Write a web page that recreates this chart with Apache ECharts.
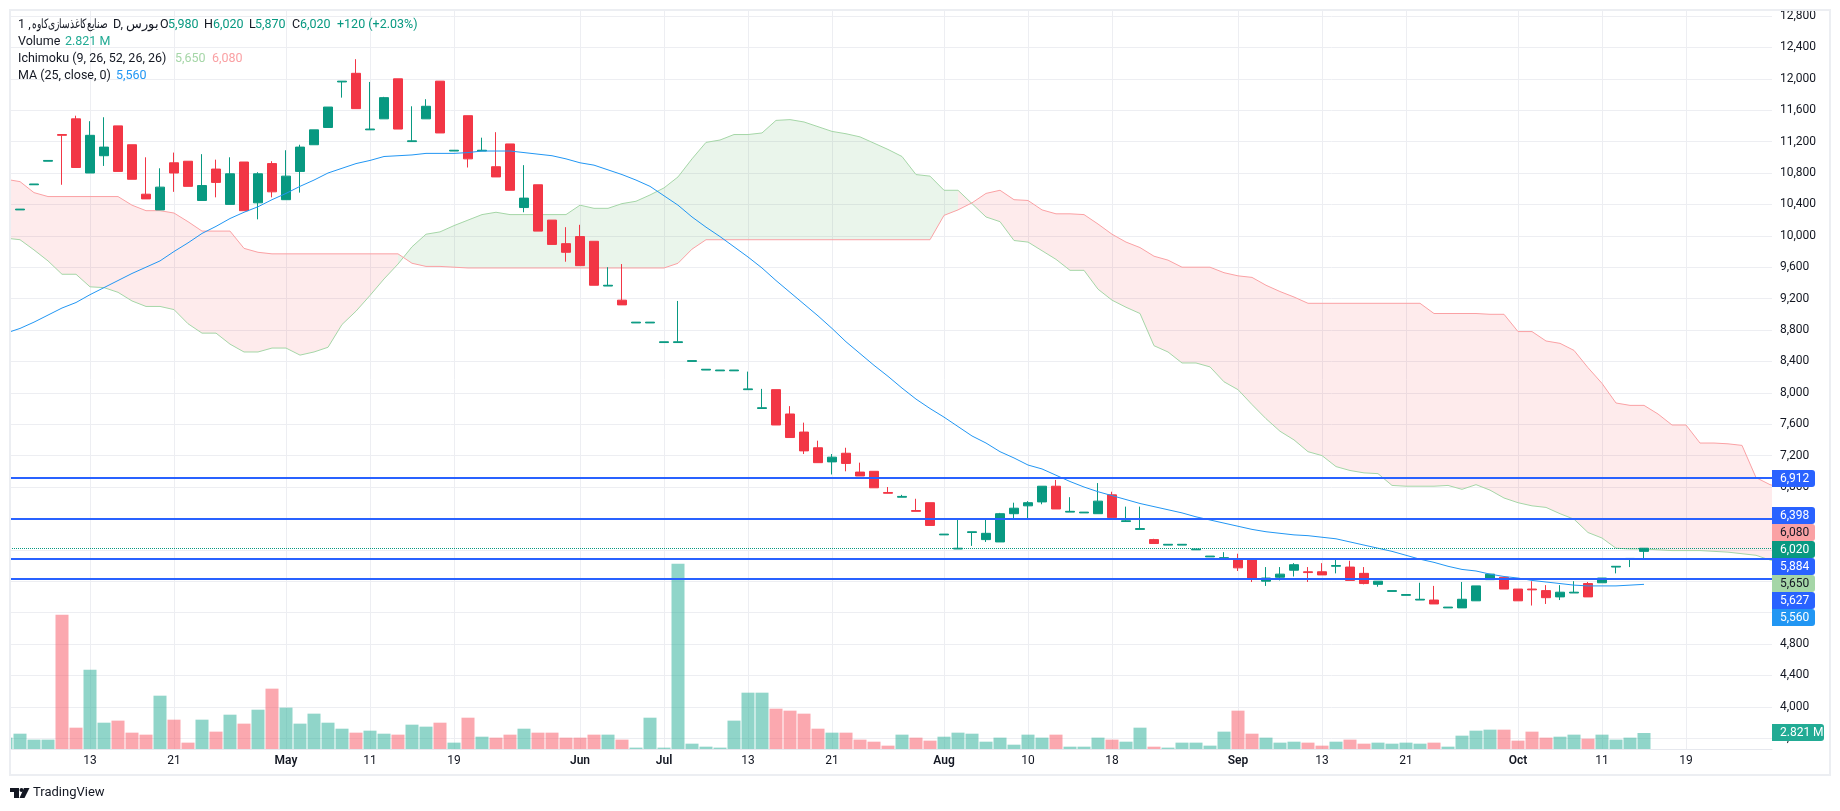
<!DOCTYPE html>
<html>
<head>
<meta charset="utf-8">
<title>chart</title>
<script src="https://cdn.jsdelivr.net/npm/echarts@6/dist/echarts.min.js"></script>
<style>
  html, body { margin: 0; padding: 0; background: #fff; }
  #chart { width: 1840px; height: 811px; }
</style>
</head>
<body>
<div id="chart"></div>
<script>
// one bar every index, index 0 is the first candle on screen
const opens = [
  10330,10650,10950,11290,11490,10800,11020,11400,11160,10530,
  10330,10930,10950,10450,10850,10400,10940,10420,10920,10460,
  10820,11160,11380,11960,12070,11350,11490,12000,11200,11490,
  11970,11080,11530,11080,10880,11170,10360,10650,10200,9900,
  9990,9930,9360,9180,8890,8890,8640,8640,8400,8290,
  8280,8280,8040,7800,8040,7730,7500,7300,7120,7230,
  6990,7000,6730,6670,6500,6600,6190,6010,6220,6130,
  6100,6460,6560,6610,6810,6480,6470,6460,6700,6360,
  6260,6130,6060,6060,6000,5910,5890,5880,5880,5600,
  5650,5740,5720,5720,5790,5780,5700,5560,5470,5420,
  5360,5360,5260,5260,5350,5620,5650,5500,5500,5480,
  5400,5450,5570,5580,5780,5880,5980
];
const closes = [
  10340,10660,10960,11280,10870,11280,11130,10820,10720,10470,
  10620,10800,10630,10640,10680,10790,10320,10790,10560,10760,
  11130,11350,11640,11970,11620,11360,11760,11360,11210,11650,
  11310,11090,10980,11090,10750,10580,10480,10060,9890,9790,
  9620,9370,9370,9120,8900,8900,8650,8650,8410,8300,
  8290,8290,8050,7810,7590,7430,7260,7110,7180,7100,
  6940,6790,6720,6680,6490,6310,6200,6020,6230,6210,
  6460,6530,6600,6810,6520,6490,6480,6620,6410,6370,
  6270,6080,6070,6070,6010,5920,5900,5770,5630,5640,
  5690,5810,5710,5680,5800,5610,5570,5600,5480,5430,
  5370,5310,5270,5370,5540,5690,5500,5350,5490,5390,
  5460,5460,5400,5640,5790,5890,6020
];
const lows = [
  10330,10650,10950,10650,10870,10800,10890,10820,10720,10470,
  10330,10560,10630,10450,10490,10400,10320,10210,10490,10460,
  10550,11160,11380,11760,11620,11350,11490,11360,11200,11490,
  11310,11080,10870,11080,10750,10580,10300,10060,9890,9670,
  9620,9370,9360,9120,8890,8890,8640,8640,8400,8290,
  8280,8280,8040,7800,7590,7430,7220,7110,6960,7000,
  6940,6790,6720,6670,6490,6310,6190,6010,6050,6100,
  6100,6400,6400,6580,6520,6480,6470,6460,6410,6360,
  6260,6080,6060,6060,6000,5910,5890,5730,5590,5540,
  5610,5660,5590,5680,5700,5610,5560,5530,5470,5420,
  5360,5310,5260,5260,5350,5620,5500,5350,5290,5310,
  5360,5450,5400,5580,5700,5780,5870
];
const highs = [
  10340,10660,10960,11290,11530,11460,11510,11400,11160,11000,
  10860,11060,10950,11040,10970,11000,10940,10810,10950,11090,
  11160,11350,11640,11970,12250,11960,11770,12000,11650,11740,
  11970,11090,11530,11250,11320,11170,10900,10650,10200,10110,
  10140,9930,9600,9640,8900,8900,8650,9170,8410,8300,
  8290,8290,8270,8050,8040,7830,7620,7390,7220,7300,
  7110,7000,6800,6700,6650,6600,6200,6390,6230,6390,
  6470,6600,6620,6810,6890,6670,6480,6850,6740,6550,
  6550,6140,6070,6070,6010,5920,5970,5950,5880,5780,
  5780,5830,5780,5830,5880,5860,5780,5600,5480,5430,
  5580,5540,5270,5590,5540,5690,5650,5500,5600,5550,
  5550,5600,5590,5640,5790,5890,6020
];
// volume in millions, first value is the half hidden bar left of index 0
const volumes = [
  2.0,2.7,1.65,1.65,23.68,3.76,13.99,4.64,5.0,2.88,
  2.53,9.4,5.17,1.12,5.17,3.06,6.05,4.47,6.93,10.64,
  7.29,4.47,6.23,4.64,3.58,2.88,3.23,2.7,2.53,4.29,
  3.94,4.64,1.12,5.52,2.17,2.0,2.53,3.58,2.88,2.88,
  2.0,2.0,2.53,2.53,1.65,0.24,5.52,0.24,32.68,0.94,
  0.41,0.24,5.0,9.93,9.93,7.11,6.76,6.23,3.58,2.88,
  2.88,1.65,1.29,0.59,2.53,2.0,1.47,2.17,2.88,2.7,
  1.29,2.0,0.76,2.53,2.0,2.53,0.41,0.41,2.0,1.65,
  1.29,3.76,0.41,0.24,1.12,1.12,0.59,3.06,6.76,2.7,
  2.0,1.12,1.29,1.12,0.59,1.29,1.65,0.94,1.12,0.94,
  1.12,0.94,1.12,0.41,2.35,3.23,3.41,3.41,1.47,3.06,
  2.0,2.17,2.53,1.82,2.53,1.65,2.0,2.821
];
// ichimoku leading spans and the moving average, first value sits at index -1
const spanA = [
  9970,9950,9820,9680,9510,9510,9350,9340,9280,9170,
  9100,9100,9060,8880,8760,8760,8620,8520,8520,8570,
  8570,8480,8520,8580,8870,9040,9240,9450,9640,9860,
  10020,10050,10130,10200,10270,10300,10270,10270,10270,10270,
  10270,10390,10350,10350,10410,10440,10520,10610,10750,10980,
  11190,11220,11290,11290,11310,11470,11480,11450,11390,11330,
  11300,11260,11180,11100,11010,10780,10760,10580,10580,10410,
  10240,10180,9940,9920,9810,9700,9560,9560,9320,9180,
  9090,9010,8600,8520,8380,8380,8330,8140,8040,7850,
  7670,7510,7400,7250,7200,7060,7010,6980,6970,6820,
  6810,6810,6810,6820,6770,6830,6760,6660,6600,6560,
  6540,6460,6390,6220,6150,6020,6010,6010,6000,5990,
  5990,5990,5980,5970,5950,5930,5870,5830
];
const spanB = [
  10720,10690,10550,10500,10500,10500,10500,10500,10500,10390,
  10320,10320,10290,10180,10060,10060,10060,9840,9790,9770,
  9770,9770,9770,9770,9770,9770,9770,9770,9770,9650,
  9610,9610,9600,9590,9590,9590,9590,9590,9590,9590,
  9590,9590,9590,9590,9590,9590,9590,9590,9650,9830,
  9950,9950,9950,9950,9950,9950,9950,9950,9950,9950,
  9950,9950,9950,9950,9950,9950,9950,10260,10330,10420,
  10540,10580,10460,10450,10330,10280,10280,10270,10150,10020,
  9920,9850,9740,9690,9600,9600,9600,9530,9490,9470,
  9370,9290,9220,9140,9140,9140,9140,9140,9140,9140,
  9140,9140,9010,9010,9010,9010,9000,9000,8780,8780,
  8660,8630,8540,8320,8120,7870,7840,7840,7730,7590,
  7590,7360,7360,7350,7330,6920,6830,6780
];
const maValues = [
  8760,8820,8900,8990,9080,9150,9250,9340,9430,9520,
  9600,9680,9800,9910,10030,10120,10220,10300,10370,10460,
  10540,10630,10710,10800,10860,10920,10960,11010,11020,11030,
  11050,11050,11050,11060,11080,11080,11080,11060,11040,11020,
  10980,10930,10900,10840,10780,10710,10630,10510,10390,10240,
  10110,9990,9860,9730,9590,9430,9280,9130,8980,8820,
  8650,8500,8350,8210,8060,7920,7800,7690,7570,7450,
  7360,7250,7170,7080,7030,6950,6870,6800,6740,6690,
  6640,6590,6550,6510,6470,6420,6380,6340,6300,6260,
  6230,6210,6190,6180,6160,6140,6100,6060,6020,5980,
  5930,5880,5840,5790,5750,5730,5690,5660,5640,5610,
  5590,5570,5550,5540,5540,5540,5550,5560
];
const priceLevels = [6912, 6398, 5884, 5627];
const lastClose = 6020;
const tickIndexes = [5, 11, 19, 25, 31, 40, 46, 52, 58, 66, 72, 78, 87, 93, 99, 107, 113, 119];
const tickLabels = ['13', '21', 'May', '11', '19', 'Jun', 'Jul', '13', '21', 'Aug', '10', '18', 'Sep', '13', '21', 'Oct', '11', '19'];
const symbolName = 'صنایع‌کاغذسازی‌کاوه';
const symbolSuffix = 'D, بورس';

const UP = '#089981', DOWN = '#f23645';
const INK = '#131722';
const GRID = '#edeef2';
const FONT = 'Roboto, sans-serif';

// pane geometry
const paneLeft = 10, paneRight = 1772, paneTop = 10, paneBottom = 749;
const xMin = -10 / 14, xMax = (paneRight - paneLeft) / 14 - 10 / 14;

const isUp = i => closes[i] >= opens[i];

function renderCloud(params, api) {
    const i = params.dataIndex;
    if (i >= spanA.length - 1) return;
    const points = [
        api.coord([i - 1, spanA[i]]),
        api.coord([i, spanA[i + 1]]),
        api.coord([i, spanB[i + 1]]),
        api.coord([i - 1, spanB[i]])
    ];
    const bullish = spanA[i + 1] >= spanB[i + 1];
    return {
        type: 'polygon',
        shape: { points: points },
        style: { fill: bullish ? 'rgba(67,160,71,0.11)' : 'rgba(242,54,69,0.1)' }
    };
}

function legendText(x, y, text, color, extra) {
    return {
        type: 'text', z: 60, x: x, y: y,
        style: Object.assign({ text: text, fill: color || INK, font: '12.5px ' + FONT, verticalAlign: 'middle' }, extra)
    };
}

function priceTag(top, text, bg, fg, right) {
    return {
        type: 'group', z: 70, x: paneRight, y: top,
        children: [
            { type: 'rect', z: 70, shape: { x: 0, y: 0, width: (right || 1815) - paneRight, height: 17, r: [0, 3, 3, 0] }, style: { fill: bg } },
            { type: 'text', z: 71, x: 8, y: 9, style: { text: text, fill: fg, font: '12px ' + FONT, verticalAlign: 'middle' } }
        ]
    };
}

const graphics = [
    // bar clip on a value axis leaves a band outside the pane, cover it
    { type: 'rect', z: 49, shape: { x: 0, y: 0, width: 9, height: 811 }, style: { fill: '#fff' } },
    // outer frame
    { type: 'rect', z: 50, shape: { x: 10, y: 10, width: 1820, height: 765 }, style: { fill: 'none', stroke: '#eceef2', lineWidth: 2 } },
    legendText(18, 25, '1 ,'),
    Object.assign(legendText(32, 25, symbolName), { scaleX: 0.7 }),
    legendText(113, 25, symbolSuffix),
    legendText(160, 25, 'O'), legendText(168, 25, '5,980', UP),
    legendText(204, 25, 'H'), legendText(213, 25, '6,020', UP),
    legendText(249, 25, 'L'), legendText(255, 25, '5,870', UP),
    legendText(292, 25, 'C'), legendText(300, 25, '6,020', UP),
    legendText(337, 25, '+120 (+2.03%)', UP),
    legendText(18, 42, 'Volume'), legendText(65, 42, '2.821 M', '#22ab94'),
    legendText(18, 59, 'Ichimoku (9, 26, 52, 26, 26)'),
    legendText(175, 59, '5,650', '#a5d6a7'), legendText(212, 59, '6,080', '#faa1a4'),
    legendText(18, 76, 'MA (25, close, 0)'), legendText(116, 76, '5,560', '#2196f3'),
    priceTag(470, '6,912', '#2962ff', '#fff'),
    priceTag(507, '6,398', '#2962ff', '#fff'),
    priceTag(524, '6,080', '#faa1a4', INK),
    priceTag(541, '6,020', UP, '#fff'),
    priceTag(558, '5,884', '#2962ff', '#fff'),
    priceTag(575, '5,650', '#a5d6a7', INK),
    priceTag(592, '5,627', '#2962ff', '#fff'),
    priceTag(609, '5,560', '#2196f3', '#fff'),
    priceTag(724, '2.821 M', '#22ab94', '#fff', 1824),
    // TradingView mark
    { type: 'polygon', z: 60, shape: { points: [[10, 788], [19, 788], [19, 798], [14, 798], [14, 792], [10, 792]] }, style: { fill: INK } },
    { type: 'circle', z: 60, shape: { cx: 21.5, cy: 790, r: 2 }, style: { fill: INK } },
    { type: 'polygon', z: 60, shape: { points: [[24, 788], [29.5, 788], [24.5, 798], [19.5, 798]] }, style: { fill: INK } },
    legendText(33, 793, 'TradingView', '#131722', { font: '13px ' + FONT })
];

const chart = echarts.init(document.getElementById('chart'));
chart.setOption({
    animation: false,
    backgroundColor: '#fff',
    textStyle: { fontFamily: FONT },
    grid: [
        { left: paneLeft, width: paneRight - paneLeft, top: paneTop, height: paneBottom - paneTop },
        { left: paneLeft, width: paneRight - paneLeft, top: 16, height: 722.2 }
    ],
    xAxis: [
        {
            type: 'value', gridIndex: 0, min: xMin, max: xMax,
            axisLine: { lineStyle: { color: '#e6e8ee', width: 1 } },
            axisTick: { show: false, customValues: tickIndexes },
            splitLine: { show: true, lineStyle: { color: GRID, width: 1 } },
            axisLabel: {
                customValues: tickIndexes,
                margin: 6, fontSize: 12, color: INK, fontFamily: FONT,
                formatter: v => {
                    const text = tickLabels[tickIndexes.indexOf(v)];
                    return /^[A-Z]/.test(text) ? '{month|' + text + '}' : text;
                },
                rich: { month: { fontWeight: 600, fontSize: 12, color: INK, fontFamily: FONT } }
            }
        },
        {
            type: 'value', gridIndex: 1, min: xMin, max: xMax,
            axisLine: { show: false }, axisTick: { show: false }, axisLabel: { show: false }, splitLine: { show: false }
        }
    ],
    yAxis: [
        {
            type: 'value', gridIndex: 0, min: 0, max: 130.3,
            axisLine: { show: false }, axisTick: { show: false }, axisLabel: { show: false }, splitLine: { show: false }
        },
        {
            type: 'value', gridIndex: 1, position: 'right', min: 3600, max: 12800, interval: 400,
            axisLine: { show: false }, axisTick: { show: false },
            splitLine: { show: true, lineStyle: { color: GRID, width: 1 } },
            axisLabel: { margin: 8, fontSize: 12, color: INK, fontFamily: FONT, formatter: v => v.toLocaleString('en-US') }
        }
    ],
    series: [
        {
            name: 'Volume', type: 'bar', xAxisIndex: 0, yAxisIndex: 0, barWidth: 13, z: 1,
            data: volumes.map((v, i) => ({
                value: [i - 1, v],
                itemStyle: { color: (i === 0 || isUp(i - 1)) ? 'rgba(34,171,148,0.5)' : 'rgba(247,82,95,0.5)' }
            }))
        },
        {
            name: 'Cloud', type: 'custom', xAxisIndex: 1, yAxisIndex: 1, z: 2, clip: true, silent: true,
            renderItem: renderCloud,
            encode: { x: 0, y: 1 },
            data: spanA.map((v, i) => [i - 1, v, spanB[i]])
        },
        {
            name: 'Leading A', type: 'line', xAxisIndex: 1, yAxisIndex: 1, z: 3, showSymbol: false, silent: true,
            lineStyle: { color: '#a5d6a7', width: 1 },
            data: spanA.map((v, i) => [i - 1, v])
        },
        {
            name: 'Leading B', type: 'line', xAxisIndex: 1, yAxisIndex: 1, z: 3, showSymbol: false, silent: true,
            lineStyle: { color: '#faa1a4', width: 1 },
            data: spanB.map((v, i) => [i - 1, v])
        },
        {
            name: 'Price', type: 'candlestick', xAxisIndex: 1, yAxisIndex: 1, z: 4, barWidth: 10,
            itemStyle: { color: UP, color0: DOWN, borderColor: UP, borderColor0: DOWN, borderWidth: 1 },
            encode: { x: 0, y: [1, 2, 3, 4] },
            data: opens.map((o, i) => [i, o, closes[i], lows[i], highs[i]])
        },
        {
            name: 'MA', type: 'line', xAxisIndex: 1, yAxisIndex: 1, z: 5, showSymbol: false, silent: true,
            lineStyle: { color: '#2196f3', width: 1 },
            data: maValues.map((v, i) => [i - 1, v]),
            markLine: {
                silent: true, symbol: 'none', animation: false, z: 6,
                label: { show: false },
                data: priceLevels.map(p => ({ yAxis: p, lineStyle: { color: '#2962ff', width: 2, type: 'solid' } }))
                    .concat([{ yAxis: lastClose, lineStyle: { color: UP, width: 1, type: 'dotted' } }])
            }
        }
    ],
    graphic: graphics
});
</script>
</body>
</html>
